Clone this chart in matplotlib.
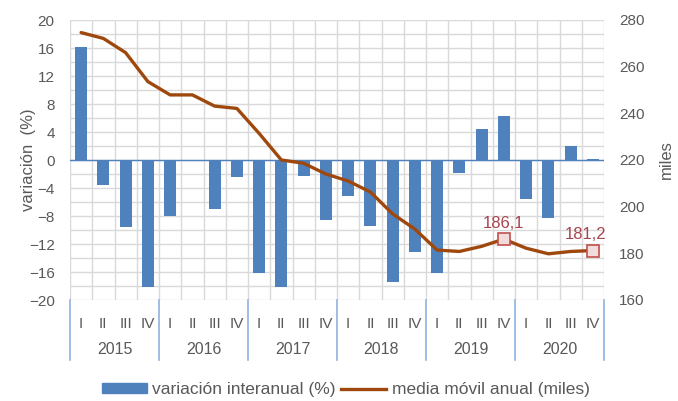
import matplotlib.pyplot as plt
import numpy as np
from matplotlib import transforms

plt.rcParams['font.family'] = ['Liberation Sans', 'DejaVu Sans']

# datos
years = ['2015', '2016', '2017', '2018', '2019', '2020']
quarters = ['I', 'II', 'III', 'IV']
var_pct = [16.1, -3.5, -9.5, -18.1,
           -8.0, 0.0, -7.0, -2.4,
           -16.1, -18.2, -2.3, -8.6,
           -5.2, -9.4, -17.4, -13.2,
           -16.1, -1.8, 4.5, 6.3,
           -5.5, -8.3, 2.0, 0.2]
media_movil = [274.6, 272.1, 266.0, 253.6,
               247.9, 247.9, 243.1, 242.1,
               231.4, 220.0, 218.6, 214.0,
               211.0, 206.3, 196.9, 190.4,
               181.4, 180.8, 183.0, 186.1,
               182.2, 179.8, 180.8, 181.2]
labelled = [19, 23]   # puntos con etiqueta

grey = '#595959'
blue = '#4F81BD'
brown = '#9E480E'

x = np.arange(len(var_pct))
qlabels = [q for y in years for q in quarters]

fig = plt.figure(figsize=(6.78, 4.01), dpi=100)
ax = fig.add_axes([70/678, 1-300/401, 534/678, 280/401])
ax2 = ax.twinx()

ax.bar(x, var_pct, width=0.55, color=blue, zorder=3)
ax.axhline(0, color=blue, lw=1, zorder=4)

ax.set_xlim(-0.5, len(x)-0.5)
ax.set_ylim(-20, 20)
ax.set_yticks(np.arange(-20, 21, 4))
ax.set_yticks(np.arange(-20, 21, 2), minor=True)
ax.set_xticks(x)
ax.set_xticklabels(qlabels)
ax.set_xticks(np.arange(-0.5, len(x), 1), minor=True)
ax.grid(which='minor', color='#D9D9D9', lw=1, zorder=0)
ax.grid(which='major', axis='y', color='#D9D9D9', lw=1, zorder=0)
ax.tick_params(which='both', length=0)
ax.tick_params(axis='x', which='major', pad=12, labelsize=11, labelcolor=grey)
ax.tick_params(axis='y', pad=11, labelsize=11, labelcolor=grey)
for s in ax.spines.values():
    s.set_visible(False)
ax.set_ylabel('variación  (%)', fontsize=12, color=grey)
ax.yaxis.set_label_coords(-0.063, 0.5)

ax2.plot(x, media_movil, color=brown, lw=2.4, solid_capstyle='round',
         label='media móvil anual (miles)', zorder=5)
for i in labelled:
    ax2.plot(x[i], media_movil[i], 's', ms=9, mfc='#F2DCDB', mec='#C0504D',
             mew=1.2, zorder=6)
    dx = -5 if i == len(x)-1 else 0
    ax2.annotate(f'{media_movil[i]:.1f}'.replace('.', ','), (x[i], media_movil[i]),
                 xytext=(dx, 6), textcoords='offset points', ha='center',
                 va='bottom', fontsize=12, color='#A8454F')
ax2.set_ylim(160, 280)
ax2.set_yticks(np.arange(160, 281, 20))
ax2.tick_params(length=0, pad=11, labelsize=11, labelcolor=grey)
for s in ax2.spines.values():
    s.set_visible(False)
ax2.set_ylabel('miles', fontsize=12, color=grey)
ax2.yaxis.set_label_coords(1.102, 0.5)

# años y separadores
trans = transforms.blended_transform_factory(ax.transData, ax.transAxes)
for k, yr in enumerate(years):
    ax.text(4*k + 1.5, -0.178, yr, transform=trans, ha='center', va='center',
            fontsize=11.5, color=grey)
for b in np.arange(-0.5, len(x), 4):
    ax.plot([b, b], [0, -0.214], transform=trans, color='#8DB3E2', lw=1.2,
            clip_on=False)

# leyenda
h1 = plt.Rectangle((0, 0), 1, 1, color=blue)
h2, = ax2.plot([], [], color=brown, lw=2.4)
fig.legend([h1, h2], ['variación interanual (%)', 'media móvil anual (miles)'],
           loc='lower center', bbox_to_anchor=(0.51, -0.03), ncol=2,
           frameon=False, fontsize=12.5, handlelength=2.6, handleheight=0.5,
           handletextpad=0.3, columnspacing=0.3, labelcolor=grey)

fig.savefig('out.png', dpi=100)
